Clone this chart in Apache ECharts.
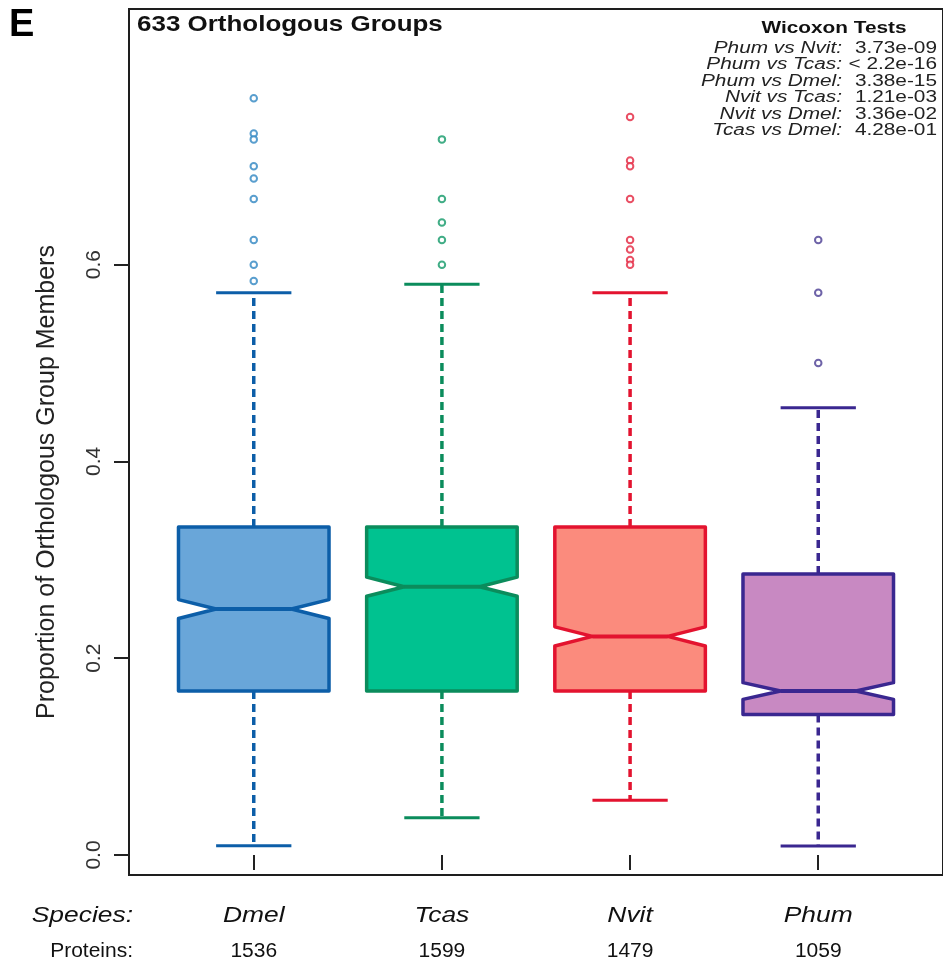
<!DOCTYPE html>
<html><head><meta charset="utf-8">
<script src="https://cdn.jsdelivr.net/npm/echarts@6/dist/echarts.min.js"></script>
<style>html,body{margin:0;padding:0;background:#fff}#c{width:943px;height:962px}</style>
</head><body><div id="c"></div>
<script>
// ---- data ----
const species = ['Dmel', 'Tcas', 'Nvit', 'Phum'];
const proteins = [1536, 1599, 1479, 1059];
const whiskerLow  = [0.0095, 0.038, 0.0556, 0.0091];
const q1          = [0.1667, 0.1667, 0.1667, 0.1429];
const notchLow    = [0.2404, 0.2630, 0.2125, 0.1582];
const median      = [0.2500, 0.2727, 0.2222, 0.1667];
const notchHigh   = [0.2596, 0.2824, 0.2319, 0.1752];
const q3          = [0.3333, 0.3333, 0.3333, 0.2857];
const whiskerHigh = [0.5714, 0.5800, 0.5714, 0.4545];
const outliersDmel = [0.7692, 0.7333, 0.7273, 0.7000, 0.6875, 0.6667, 0.6250, 0.6000, 0.5833];
const outliersTcas = [0.7273, 0.6667, 0.6429, 0.6250, 0.6000];
const outliersNvit = [0.7500, 0.7059, 0.7000, 0.6667, 0.6250, 0.6154, 0.6047, 0.6000];
const outliersPhum = [0.6250, 0.5714, 0.5000];
const yTicks = [0, 0.2, 0.4, 0.6];
const xTicks = [1, 2, 3, 4];
const testPairs = ['Phum vs Nvit:', 'Phum vs Tcas:', 'Phum vs Dmel:', 'Nvit vs Tcas:', 'Nvit vs Dmel:', 'Tcas vs Dmel:'];
const pValues = ['3.73e-09', '< 2.2e-16', '3.38e-15', '1.21e-03', '3.36e-02', '4.28e-01'];
const panelLetter = 'E';
const plotTitle = '633 Orthologous Groups';
const legendTitle = 'Wicoxon Tests';
const yTitle = 'Proportion of Orthologous Group Members';

// ---- styles ----
const fillColors   = ['#69a6d9', '#00c290', '#fb8b7d', '#c889c2'];
const borderColors = ['#0c5ea8', '#0b8c5c', '#e3132f', '#3a2790'];
const pointColors  = ['#2f86c2', '#119868', '#e3233d', '#4a3c92'];
const outliers = [outliersDmel, outliersTcas, outliersNvit, outliersPhum];
const FONT = '"Liberation Sans", Arial, Helvetica, sans-serif';

const chart = echarts.init(document.getElementById('c'), null, { renderer: 'canvas' });

const boxData = species.map((s, i) => [i + 1, whiskerLow[i], q1[i], notchLow[i], median[i], notchHigh[i], q3[i], whiskerHigh[i], i]);

function renderBox(params, api) {
  const x = api.value(0);
  const lo = api.value(1), a = api.value(2), nl = api.value(3), md = api.value(4),
        nh = api.value(5), b = api.value(6), hi = api.value(7);
  const idx = api.value(8);
  const w = 0.4, wc = 0.2;
  const P = (dx, v) => api.coord([x + dx, v]);
  const pts = [P(-w, a), P(w, a), P(w, nl), P(w / 2, md), P(w, nh), P(w, b), P(-w, b), P(-w, nh), P(-w / 2, md), P(-w, nl)];
  const col = borderColors[idx], fill = fillColors[idx];
  const cLo = P(0, lo), cQ1 = P(0, a), cQ3 = P(0, b), cHi = P(0, hi);
  const capLoL = P(-wc, lo), capLoR = P(wc, lo), capHiL = P(-wc, hi), capHiR = P(wc, hi);
  const mL = P(-w / 2, md), mR = P(w / 2, md);
  const cs = params.coordSys;
  const yBottom = cs.y + cs.height;
  const dash = { stroke: col, lineWidth: 3.5, lineDash: [8, 5], lineCap: 'butt' };
  return {
    type: 'group',
    children: [
      { type: 'line', shape: { x1: cQ3[0], y1: cQ3[1], x2: cHi[0], y2: cHi[1] }, style: dash },
      { type: 'line', shape: { x1: cQ1[0], y1: cQ1[1], x2: cLo[0], y2: cLo[1] }, style: dash },
      { type: 'line', shape: { x1: capHiL[0], y1: capHiL[1], x2: capHiR[0], y2: capHiR[1] }, style: { stroke: col, lineWidth: 3 } },
      { type: 'line', shape: { x1: capLoL[0], y1: capLoL[1], x2: capLoR[0], y2: capLoR[1] }, style: { stroke: col, lineWidth: 3 } },
      { type: 'polygon', shape: { points: pts }, style: { fill: fill, stroke: col, lineWidth: 3.5, lineJoin: 'round' } },
      { type: 'line', shape: { x1: mL[0], y1: mL[1], x2: mR[0], y2: mR[1] }, style: { stroke: col, lineWidth: 4 } },
      { type: 'text', x: cLo[0], y: yBottom + 41, scaleX: 1.2,
        style: { text: species[idx], font: 'italic 22px ' + FONT, fill: '#111', align: 'center', verticalAlign: 'middle' } },
      { type: 'text', x: cLo[0], y: yBottom + 76, scaleX: 1.05,
        style: { text: String(proteins[idx]), font: '20px ' + FONT, fill: '#111', align: 'center', verticalAlign: 'middle' } }
    ]
  };
}

const series = [{
  type: 'custom',
  renderItem: renderBox,
  data: boxData,
  encode: { x: 0, y: [1, 7] },
  clip: false,
  z: 2
}];
outliers.forEach((arr, i) => {
  series.push({
    type: 'scatter',
    data: arr.map(v => [i + 1, v]),
    symbol: 'emptyCircle',
    symbolSize: 6.5,
    itemStyle: { color: pointColors[i], borderColor: pointColors[i], borderWidth: 1.6 },
    z: 3
  });
});

const legendGraphics = [];
legendGraphics.push({ type: 'text', x: 834, y: 29, scaleX: 1.3,
  style: { text: legendTitle, font: 'bold 16px ' + FONT, fill: '#111', align: 'center', verticalAlign: 'middle' } });
testPairs.forEach((t, i) => {
  legendGraphics.push({ type: 'text', x: 842, y: 48.5 + i * 16.5, scaleX: 1.3,
    style: { text: t, font: 'italic 16px ' + FONT, fill: '#222', align: 'right', verticalAlign: 'middle' } });
  legendGraphics.push({ type: 'text', x: 937, y: 48.5 + i * 16.5, scaleX: 1.3,
    style: { text: pValues[i], font: '16px ' + FONT, fill: '#222', align: 'right', verticalAlign: 'middle' } });
});

chart.setOption({
  animation: false,
  backgroundColor: '#ffffff',
  grid: { left: 129, right: -7, top: 9, bottom: 87, show: true, borderColor: '#1e1e1e', borderWidth: 2, backgroundColor: 'transparent' },
  xAxis: {
    type: 'value', min: 0.337, max: 4.663,
    axisLine: { show: false },
    splitLine: { show: false },
    axisTick: { show: true, customValues: xTicks, length: 15, lineStyle: { color: '#222', width: 2 } },
    axisLabel: { show: false }
  },
  yAxis: {
    type: 'value', min: -0.0203, max: 0.8598,
    axisLine: { show: false },
    splitLine: { show: false },
    axisTick: { show: true, customValues: yTicks, length: 15, lineStyle: { color: '#222', width: 2 } },
    axisLabel: { show: true, customValues: yTicks, rotate: 90, margin: 24, fontSize: 21, fontFamily: FONT, color: '#333',
      formatter: v => v.toFixed(1) }
  },
  graphic: [
    { type: 'text', x: 9, y: 26, style: { text: panelLetter, font: 'bold 38px ' + FONT, fill: '#000', align: 'left', verticalAlign: 'middle' } },
    { type: 'text', x: 137, y: 25, scaleX: 1.18, style: { text: plotTitle, font: 'bold 22px ' + FONT, fill: '#111', align: 'left', verticalAlign: 'middle' } },
    { type: 'text', x: 47, y: 482, rotation: Math.PI / 2, style: { text: yTitle, font: '25px ' + FONT, fill: '#222', align: 'center', verticalAlign: 'middle' } },
    { type: 'text', x: 133, y: 916, scaleX: 1.2, style: { text: 'Species:', font: 'italic 22px ' + FONT, fill: '#111', align: 'right', verticalAlign: 'middle' } },
    { type: 'text', x: 133, y: 951, scaleX: 1.05, style: { text: 'Proteins:', font: '20px ' + FONT, fill: '#111', align: 'right', verticalAlign: 'middle' } }
  ].concat(legendGraphics),
  series: series
});
</script>
</body></html>
